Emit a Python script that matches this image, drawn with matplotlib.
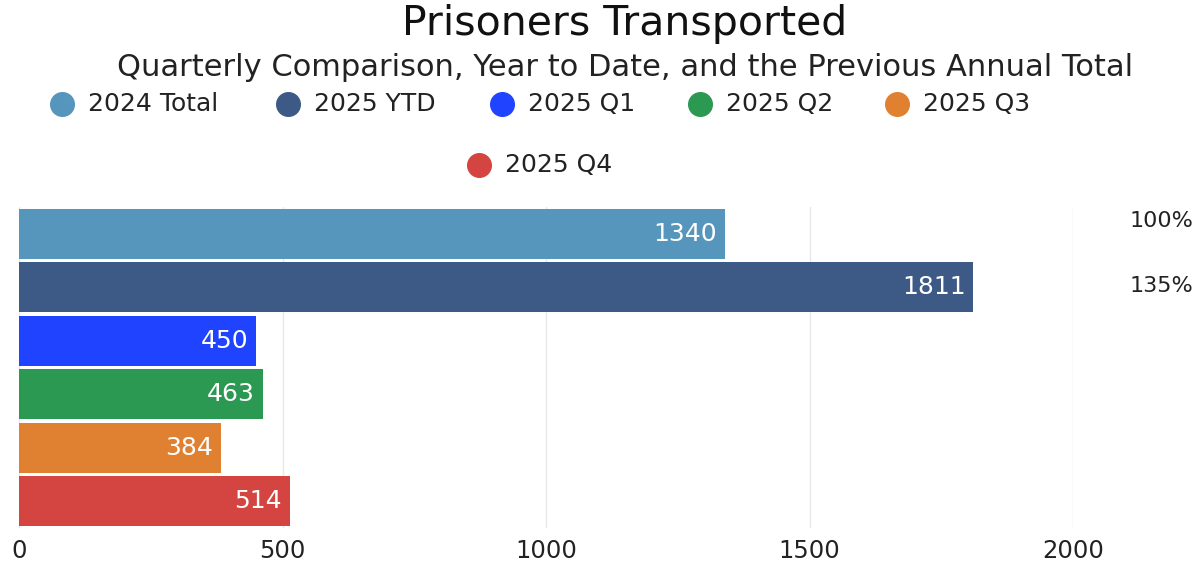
import matplotlib
matplotlib.use("Agg")
import matplotlib.pyplot as plt
from matplotlib.lines import Line2D

plt.rcParams['font.family'] = ['DejaVu Sans']

categories = ["2024 Total", "2025 YTD", "2025 Q1", "2025 Q2", "2025 Q3", "2025 Q4"]
values = [1340, 1811, 450, 463, 384, 514]
colors = ["#5796BC", "#3D5A87", "#2043FF", "#2C9953", "#E08132", "#D44541"]
x_ticks = [0, 500, 1000, 1500, 2000]

W, H = 1201, 563
fig = plt.figure(figsize=(W / 100, H / 100), dpi=100)
ax = fig.add_axes([19 / W, 1 - 528 / H, (1073 - 19) / W, (528 - 207) / H])

ypos = list(range(len(categories)))
ax.barh(ypos, values, height=0.93, color=colors, zorder=2)
ax.set_ylim(len(categories) - 0.5, -0.5)
ax.set_xlim(0, 2000)
ax.set_xticks(x_ticks)
ax.set_xticklabels([str(t) for t in x_ticks], fontsize=17.5, color="#222222")
ax.set_yticks([])
ax.tick_params(axis='x', length=0, pad=8)
for s in ax.spines.values():
    s.set_visible(False)
ax.grid(axis='x', color="#e8e8e8", linewidth=1, zorder=0)
ax.set_axisbelow(True)

for y, v in zip(ypos, values):
    ax.annotate(str(v), xy=(v, y), xytext=(-8, 0), textcoords='offset pixels',
                ha='right', va='center', color='white', fontsize=18, zorder=3)

# percentage of previous annual total
base = values[0]
pct_y_px = [221, 286]
for i in range(2):
    pct = round(values[i] / base * 100)
    fig.text(1161 / W, 1 - pct_y_px[i] / H, f"{pct}%", ha='center', va='center',
             fontsize=16, color="#222222")

fig.text(625 / W, 1 - 24 / H, "Prisoners Transported", ha='center', va='center',
         fontsize=29.5, color="#111111")
fig.text(625 / W, 1 - 67 / H, "Quarterly Comparison, Year to Date, and the Previous Annual Total",
         ha='center', va='center', fontsize=22, color="#222222")

# legend (manual, two rows)
marker_px = [(62, 104), (288, 104), (502, 104), (700, 104), (897, 104), (479, 165)]
for (mx, my), lab, c in zip(marker_px, categories, colors):
    fig.add_artist(Line2D([mx / W], [1 - my / H], marker='o', markersize=17,
                          color=c, linestyle='none', transform=fig.transFigure))
    fig.text((mx + 26) / W, 1 - my / H, lab, ha='left', va='center',
             fontsize=18, color="#222222")

fig.savefig("out.png", dpi=100)
